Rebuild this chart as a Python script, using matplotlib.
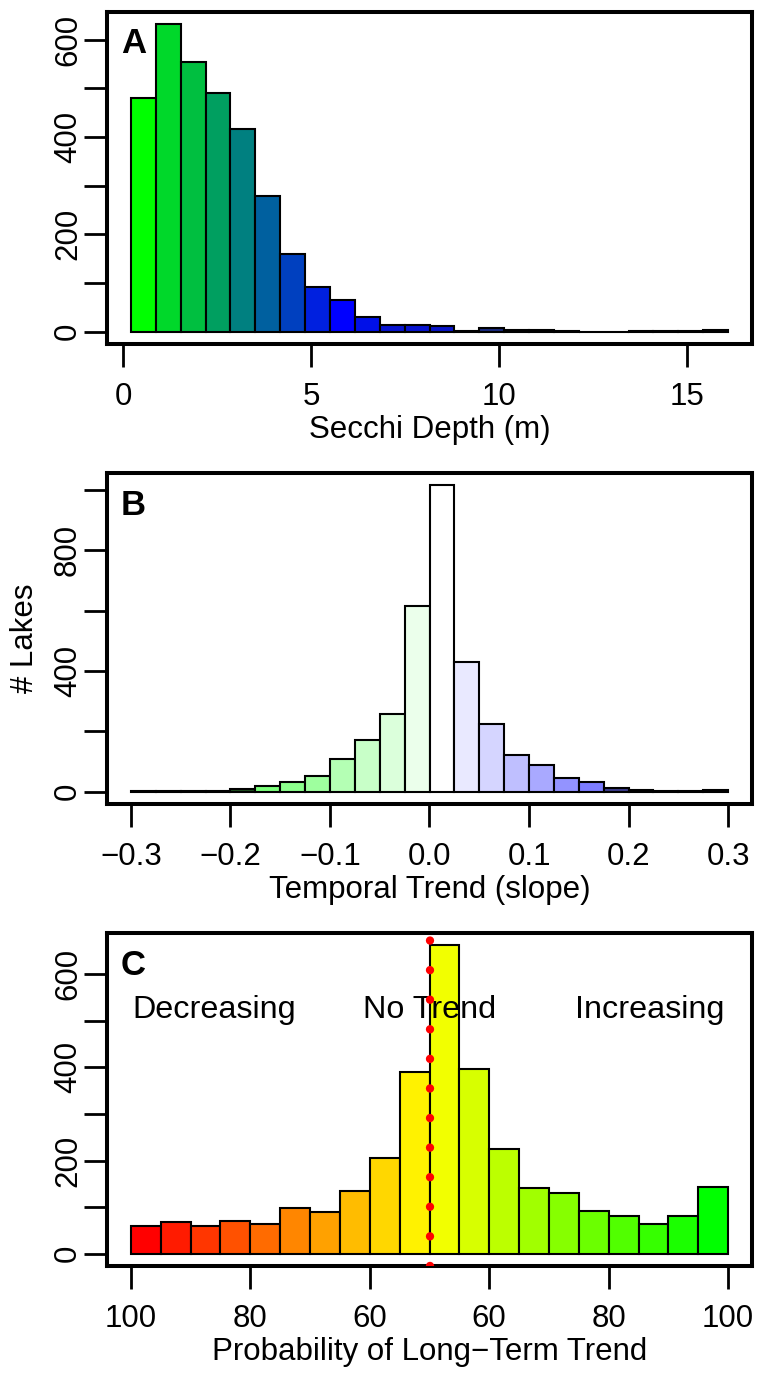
import numpy as np
import matplotlib
matplotlib.use("Agg")
import matplotlib.pyplot as plt
from matplotlib.colors import hsv_to_rgb

plt.rcParams['font.family'] = ['Liberation Sans', 'DejaVu Sans']
plt.rcParams['axes.unicode_minus'] = True

# ---------------- data ----------------
# Panel A: Secchi depth histogram (24 bins)
secchi_bin_start = 0.2
secchi_bin_width = 0.6625
secchi_counts = [479, 632, 553, 491, 416, 279, 160, 92, 65, 30, 14, 14,
                 12, 1, 8, 3, 3, 1, 0, 0, 1, 2, 1, 3]
secchi_colors = ["#00FF00", "#00D82A", "#00BF40", "#009F60", "#008080", "#00609F",
                 "#0040BF", "#0020DF", "#0000FF", "#0010E8", "#0814D0", "#0814D0",
                 "#0814C8", "#0A10B0", "#1A2A80", "#101050", "#101050", "#101050",
                 "#101050", "#101050", "#101050", "#101050", "#101050", "#101050"]
secchi_xticks = [0, 5, 10, 15]

# Panel B: temporal trend (slope) histogram (24 bins of 0.025 from -0.3)
trend_bin_start = -0.3
trend_bin_width = 0.025
trend_counts = [1, 1, 3, 4, 8, 20, 33, 53, 110, 170, 257, 615,
                1016, 429, 224, 121, 88, 47, 31, 11, 6, 4, 3, 5]
trend_colors = ["#1F4F1F", "#1F4F1F", "#1F4F1F", "#1F4F1F", "#1F4F1F", "#7CFF7C",
                "#8CFF8C", "#9EFF9E", "#B4FFB4", "#C8FFC8", "#DBFFDB", "#EBFFEB",
                "#FFFFFF", "#E9E9FF", "#D5D5FF", "#BFBFFF", "#A9A9FF", "#9393FF",
                "#7C7CFF", "#3C3C8C", "#3C3C8C", "#3C3C8C", "#3C3C8C", "#3C3C8C"]
trend_xticks = [-0.3, -0.2, -0.1, 0.0, 0.1, 0.2, 0.3]
trend_xticklabels = ["\u22120.3", "\u22120.2", "\u22120.1", "0.0", "0.1", "0.2", "0.3"]

# Panel C: probability of long-term trend (20 bins of 5 on a 0-100 axis)
prob_bin_start = 0
prob_bin_width = 5
prob_counts = [60, 67, 60, 71, 64, 98, 89, 134, 205, 391,
               662, 396, 225, 141, 130, 91, 81, 63, 81, 143]
prob_xticks = [0, 20, 40, 60, 80, 100]
prob_xticklabels = ["100", "80", "60", "60", "80", "100"]
prob_divider = 50
prob_texts = ["Decreasing", "No Trend", "Increasing"]
prob_text_x = [0.2, 50, 99.3]
prob_text_y = 506

# ---------------- style ----------------
FS = 22.5
FS_C = 23.3
SPINE_LW = 2.9
TICK_LEN = 16.8
TICK_W = 2.0
EDGE_LW = 1.5

fig = plt.figure(figsize=(7.64, 13.76), dpi=100)
L = 107 / 764
W = (752 - 107) / 764


def make_axes(top_px, bot_px):
    return fig.add_axes([L, 1 - bot_px / 1376, W, (bot_px - top_px) / 1376])


def style_axes(ax, yticks, ylabeled):
    for s in ax.spines.values():
        s.set_linewidth(SPINE_LW)
    ax.tick_params(axis='both', direction='out', length=TICK_LEN, width=TICK_W,
                   labelsize=FS)
    ax.tick_params(axis='x', pad=10.5)
    ax.tick_params(axis='y', pad=0.5)
    ax.set_yticks(yticks)
    ax.set_yticklabels([str(t) if t in ylabeled else "" for t in yticks])
    for lab in ax.get_yticklabels():
        lab.set_rotation(90)
        lab.set_va('center')
        lab.set_ha('right')


def ylim_r(counts):
    m = max(counts)
    return (-0.04 * m, 1.04 * m)


# ---------- Panel A ----------
axA = make_axes(11.7, 344)
edgesA = secchi_bin_start + secchi_bin_width * np.arange(len(secchi_counts) + 1)
axA.bar(edgesA[:-1], secchi_counts, width=secchi_bin_width, align='edge',
        color=secchi_colors, edgecolor='black', linewidth=EDGE_LW, zorder=2)
span = edgesA[-1] - edgesA[0]
axA.set_xlim(edgesA[0] - 0.04 * span, edgesA[-1] + 0.04 * span)
axA.set_ylim(*ylim_r(secchi_counts))
axA.set_xticks(secchi_xticks)
style_axes(axA, list(range(0, 700, 100)), [0, 200, 400, 600])
axA.set_xlabel("Secchi Depth (m)", fontsize=FS, va='baseline')
axA.xaxis.set_label_coords(0.5, -94 / 332.3)
axA.text(0.0217, 0.8756, "A", transform=axA.transAxes, fontsize=25,
         fontweight='bold', ha='left', va='baseline')

# ---------- Panel B ----------
axB = make_axes(473, 804)
edgesB = trend_bin_start + trend_bin_width * np.arange(len(trend_counts) + 1)
axB.bar(edgesB[:-1], trend_counts, width=trend_bin_width, align='edge',
        color=trend_colors, edgecolor='black', linewidth=EDGE_LW, zorder=2)
span = edgesB[-1] - edgesB[0]
axB.set_xlim(edgesB[0] - 0.04 * span, edgesB[-1] + 0.04 * span)
axB.set_ylim(*ylim_r(trend_counts))
axB.set_xticks(trend_xticks)
axB.set_xticklabels(trend_xticklabels)
style_axes(axB, list(range(0, 1200, 200)), [0, 400, 800])
axB.set_xlabel("Temporal Trend (slope)", fontsize=FS, va='baseline')
axB.xaxis.set_label_coords(0.5, -94 / 331)
axB.set_ylabel("# Lakes", fontsize=FS, va='baseline')
axB.yaxis.set_label_coords((33 - 107) / 645, 0.5)
axB.text(0.0205, 0.873, "B", transform=axB.transAxes, fontsize=25,
         fontweight='bold', ha='left', va='baseline')

# ---------- Panel C ----------
axC = make_axes(933, 1266)
edgesC = prob_bin_start + prob_bin_width * np.arange(len(prob_counts) + 1)
n = len(prob_counts)
prob_colors = [hsv_to_rgb((i / (n - 1) / 3.0, 1.0, 1.0)) for i in range(n)]
axC.bar(edgesC[:-1], prob_counts, width=prob_bin_width, align='edge',
        color=prob_colors, edgecolor='black', linewidth=EDGE_LW, zorder=2)
span = edgesC[-1] - edgesC[0]
axC.set_xlim(edgesC[0] - 0.04 * span, edgesC[-1] + 0.04 * span)
axC.set_ylim(*ylim_r(prob_counts))
axC.set_xticks(prob_xticks)
axC.set_xticklabels(prob_xticklabels)
style_axes(axC, list(range(0, 700, 100)), [0, 200, 400, 600])
axC.set_xlabel("Probability of Long\u2212Term Trend", fontsize=FS, va='baseline')
axC.xaxis.set_label_coords(0.5, -94 / 333)
axC.text(0.021, 0.874, "C", transform=axC.transAxes, fontsize=25,
         fontweight='bold', ha='left', va='baseline')
for t, x, ha in zip(prob_texts, prob_text_x, ['left', 'center', 'right']):
    axC.text(x, prob_text_y, t, fontsize=FS_C, ha=ha, va='baseline', zorder=3)
axC.axvline(prob_divider, color='red', linewidth=6.0,
            linestyle=(0, (0.01, 3.54)), dash_capstyle='round', zorder=4)

fig.savefig("out.png", dpi=100)
